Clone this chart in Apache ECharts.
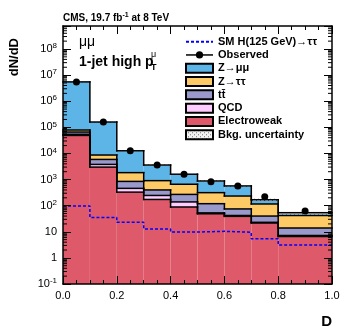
<!DOCTYPE html>
<html>
<head>
<meta charset="utf-8">
<script src="https://cdn.jsdelivr.net/npm/echarts@6/dist/echarts.min.js"></script>
<style>
html, body { margin: 0; padding: 0; background: #fff; }
#chart { width: 349px; height: 335px; }
</style>
</head>
<body>
<div id="chart"></div>
<script>
// bin edges of the D distribution (last bin is wider)
var binEdges = [0, 0.1, 0.2, 0.3, 0.4, 0.5, 0.6, 0.7, 0.8, 1.0];

// per-bin yields
var observed = [5.5e6, 1.6e5, 1.26e4, 3600, 1600, 830, 570, 221, 63];
var zmm      = [5.42e6, 1.51e5, 1.08e4, 2690, 940, 565, 336, 52, 12];
var ztt      = [1.3e4, 2800, 990, 508, 391, 196, 159, 76, 28];
var ttbar    = [1.2e4, 2100, 390, 154, 131, 66, 33, 17, 6.8];
var qcd      = [5000, 800, 130, 73, 50, 4, 3, 1.3, 0.6];
var ewk      = [4.9e4, 3000, 330, 173, 89, 49, 39, 21.7, 6.6];
var higgs    = [97, 35, 23, 12.8, 9.8, 10.4, 9.6, 5.4, 3.1];
var bkgUnc   = [0.03, 0.03, 0.04, 0.05, 0.05, 0.06, 0.06, 0.1, 0.15];

var names = {
  higgs: 'SM H(125 GeV)\u2192\u03c4\u03c4',
  obs: 'Observed',
  zmm: 'Z\u2192\u03bc\u03bc',
  ztt: 'Z\u2192\u03c4\u03c4',
  tt: 'tt\u0304',
  qcd: 'QCD',
  ewk: 'Electroweak',
  unc: 'Bkg. uncertainty'
};

var yMin = 0.1, yMax = 7.6e8;
var font = 'Liberation Sans, Arial, Helvetica, sans-serif';

var chart = echarts.init(document.getElementById('chart'), null, { renderer: 'canvas' });

// stack from bottom to top
var layers = [
  { name: names.ewk, vals: ewk, color: '#de5a6a' },
  { name: names.qcd, vals: qcd, color: '#ffccff' },
  { name: names.tt, vals: ttbar, color: '#9999cc' },
  { name: names.ztt, vals: ztt, color: '#fdca66' },
  { name: names.zmm, vals: zmm, color: '#5db4e6' }
];

var running = binEdges.slice(1).map(function () { return yMin; });
layers.forEach(function (l, k) {
  var lo = running.slice();
  var hi = l.vals.map(function (v, i) { return (k === 0 ? 0 : lo[i]) + v; });
  l.lo = lo; l.hi = hi;
  running = hi;
});
var total = running;

function stackItem(params, api) {
  var i = params.dataIndex;
  var x0 = api.value(0), x1 = api.value(1), lo = api.value(2), hi = api.value(3), prev = api.value(4);
  var a = api.coord([x0, hi]), b = api.coord([x1, lo]);
  var line = { stroke: '#000', lineWidth: 1.5, lineCap: 'square' };
  var kids = [
    { type: 'rect', shape: { x: a[0], y: a[1], width: b[0] - a[0], height: b[1] - a[1] },
      style: { fill: api.visual('color') }, z2: 0 },
    { type: 'line', shape: { x1: a[0], y1: a[1], x2: b[0], y2: a[1] }, style: line, z2: 10 }
  ];
  if (i > 0) {
    var p = api.coord([x0, prev]);
    kids.push({ type: 'line', shape: { x1: a[0], y1: p[1], x2: a[0], y2: a[1] }, style: line, z2: 10 });
  }
  return { type: 'group', children: kids };
}

var series = layers.map(function (l) {
  return {
    name: l.name,
    type: 'custom',
    itemStyle: { color: l.color, borderColor: '#000', borderWidth: 1.5 },
    encode: { x: [0, 1], y: [2, 3] },
    data: l.vals.map(function (v, i) {
      return [binEdges[i], binEdges[i + 1], l.lo[i], l.hi[i], i > 0 ? l.hi[i - 1] : l.hi[i]];
    }),
    renderItem: stackItem
  };
});

// hatch pattern for the uncertainty band
var pc = document.createElement('canvas');
pc.width = 4; pc.height = 4;
var g = pc.getContext('2d');
g.fillStyle = '#f2f2f2'; g.fillRect(0, 0, 4, 4);
g.fillStyle = '#777'; g.fillRect(0, 0, 1, 1); g.fillRect(2, 2, 1, 1);
var hatch = { image: pc, repeat: 'repeat' };

series.push({
  name: names.unc,
  type: 'custom',
  itemStyle: { color: hatch, borderColor: '#000', borderWidth: 1.5 },
  encode: { x: [0, 1], y: [2, 3] },
  data: total.map(function (t, i) {
    return [binEdges[i], binEdges[i + 1], t * (1 - bkgUnc[i]), t * (1 + bkgUnc[i])];
  }),
  renderItem: function (params, api) {
    var a = api.coord([api.value(0), api.value(3)]), b = api.coord([api.value(1), api.value(2)]);
    return { type: 'rect', shape: { x: a[0], y: a[1], width: b[0] - a[0], height: b[1] - a[1] },
      style: { fill: hatch }, z2: 5 };
  }
});

series.push({
  name: names.higgs,
  type: 'line',
  step: 'end',
  symbol: 'none',
  z: 3,
  color: '#0000ff',
  lineStyle: { color: '#0000ff', width: 1.5, type: [3, 2] },
  data: binEdges.map(function (e, i) { return [e, higgs[Math.min(i, higgs.length - 1)]]; })
});

series.push({
  name: names.obs,
  type: 'line',
  symbol: 'circle',
  symbolSize: 7,
  z: 4,
  color: '#000',
  itemStyle: { color: '#000' },
  lineStyle: { width: 0 },
  data: observed.map(function (v, i) { return [(binEdges[i] + binEdges[i + 1]) / 2, v]; })
});

// log-distributed minor ticks on the left and right frame
var minorVals = [];
for (var e = -1; e <= 8; e++) {
  for (var k = 2; k <= 9; k++) {
    var mv = k * Math.pow(10, e);
    if (mv < yMax) minorVals.push([0, mv]);
  }
}
series.push({
  type: 'custom',
  silent: true,
  z: 6,
  encode: { x: 0, y: 1 },
  data: minorVals,
  renderItem: function (params, api) {
    var p = api.coord([0, api.value(1)]);
    var cs = params.coordSys;
    var st = { stroke: '#000', lineWidth: 1 };
    return { type: 'group', children: [
      { type: 'line', shape: { x1: cs.x, y1: p[1], x2: cs.x + 4, y2: p[1] }, style: st },
      { type: 'line', shape: { x1: cs.x + cs.width, y1: p[1], x2: cs.x + cs.width - 4, y2: p[1] }, style: st }
    ] };
  }
});

function xAxisCfg(pos, labels) {
  return {
    type: 'value', position: pos, min: 0, max: 1, interval: 0.2, z: 10,
    axisLine: { show: true, onZero: false, lineStyle: { color: '#000', width: 1.5 } },
    axisTick: { show: true, inside: true, length: 8, lineStyle: { color: '#000', width: 1 } },
    minorTick: { show: true, splitNumber: 4, length: 4, lineStyle: { color: '#000', width: 1 } },
    splitLine: { show: false },
    axisLabel: { show: labels, color: '#000', fontSize: 11, fontFamily: font, margin: 6,
      formatter: function (v) { return v.toFixed(1); } }
  };
}

function yAxisCfg(pos, labels) {
  return {
    type: 'log', logBase: 10, position: pos, min: yMin, max: yMax, splitNumber: 10, z: 10,
    axisLine: { show: true, onZero: false, lineStyle: { color: '#000', width: 1.5 } },
    axisTick: { show: true, inside: true, length: 8, lineStyle: { color: '#000', width: 1 } },
    splitLine: { show: false },
    axisLabel: {
      show: labels, margin: 6, fontFamily: font,
      formatter: function (v) {
        var l = Math.log10(v), ex = Math.round(l);
        if (Math.abs(l - ex) > 0.01) return '';
        if (ex === 0) return '{b|1}';
        if (ex === 1) return '{b|10}';
        return '{b|10}{s|' + ex + '}';
      },
      rich: {
        b: { fontSize: 11, color: '#000', fontFamily: font, lineHeight: 14 },
        s: { fontSize: 8, color: '#000', fontFamily: font, lineHeight: 8, verticalAlign: 'top' }
      }
    }
  };
}

var legendNames = [names.higgs, names.obs, names.zmm, names.ztt, names.tt, names.qcd, names.ewk, names.unc];

chart.setOption({
  animation: false,
  backgroundColor: '#fff',
  grid: { left: 63, right: 17, top: 26, bottom: 51 },
  xAxis: [xAxisCfg('bottom', true), xAxisCfg('top', false)],
  yAxis: [yAxisCfg('left', true), yAxisCfg('right', false)],
  legend: {
    orient: 'vertical', left: 185, top: 35, padding: 0, itemGap: 0,
    itemWidth: 27, itemHeight: 9, selectedMode: false,
    textStyle: { fontSize: 11, fontWeight: 'bold', fontFamily: font, color: '#000', lineHeight: 13.3 },
    data: legendNames.map(function (n) {
      if (n === names.higgs) return { name: n, itemStyle: { opacity: 0 } };
      if (n === names.obs) return { name: n, lineStyle: { width: 1.5, color: '#000' } };
      return { name: n, icon: 'rect' };
    })
  },
  graphic: [
    { type: 'text', left: 63, top: 12,
      style: { text: '{a|CMS, 19.7 fb}{s|-1}{a| at 8 TeV}',
        rich: { a: { fontSize: 10, fontWeight: 'bold', fontFamily: font, fill: '#000', lineHeight: 12 },
                s: { fontSize: 7, fontWeight: 'bold', fontFamily: font, fill: '#000', lineHeight: 7, verticalAlign: 'top' } } } },
    { type: 'text', x: 79, y: 42,
      style: { text: '\u03bc\u03bc', fontSize: 14, fontFamily: font, fill: '#000', textVerticalAlign: 'middle' } },
    { type: 'text', x: 79, y: 62,
      style: { text: '1-jet high p', fontSize: 14, fontWeight: 'bold', fontFamily: font, fill: '#000', textVerticalAlign: 'middle' } },
    { type: 'text', x: 151, y: 55,
      style: { text: '\u03bc', fontSize: 9, fontFamily: font, fill: '#000', textVerticalAlign: 'middle' } },
    { type: 'text', x: 151, y: 68,
      style: { text: 'T', fontSize: 9, fontWeight: 'bold', fontFamily: font, fill: '#000', textVerticalAlign: 'middle' } },
    { type: 'text', x: 14, y: 38, rotation: Math.PI / 2,
      style: { text: 'dN/dD', fontSize: 13, fontWeight: 'bold', fontFamily: font, fill: '#000',
        textAlign: 'right', textVerticalAlign: 'middle' } },
    { type: 'text', x: 332, y: 322,
      style: { text: 'D', fontSize: 15, fontWeight: 'bold', fontFamily: font, fill: '#000',
        textAlign: 'right', textVerticalAlign: 'middle' } }
  ],
  series: series
});
</script>
</body>
</html>
